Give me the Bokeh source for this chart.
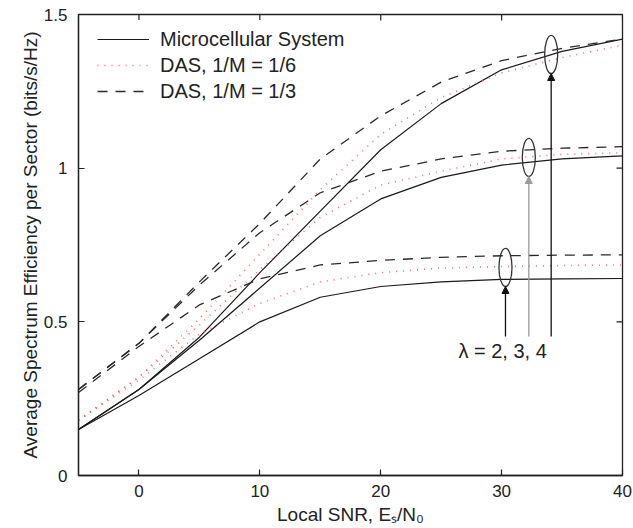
import math
from bokeh.plotting import figure
from bokeh.models import (Range1d, FixedTicker, Legend, LegendItem,
                          Label, Arrow, NormalHead)
from bokeh.embed import file_html
from bokeh.resources import INLINE

# ---------------- data ----------------
snr = [-5, 0, 5, 10, 15, 20, 25, 30, 35, 40]

micro_l2 = [0.15, 0.26, 0.38, 0.50, 0.58, 0.615, 0.63, 0.638, 0.64, 0.641]
micro_l3 = [0.15, 0.28, 0.44, 0.61, 0.78, 0.90, 0.97, 1.01, 1.03, 1.04]
micro_l4 = [0.15, 0.28, 0.45, 0.66, 0.86, 1.06, 1.21, 1.32, 1.38, 1.42]

das6_l2 = [0.18, 0.31, 0.46, 0.56, 0.63, 0.66, 0.675, 0.68, 0.683, 0.685]
das6_l3 = [0.18, 0.32, 0.49, 0.67, 0.84, 0.945, 0.99, 1.03, 1.045, 1.05]
das6_l4 = [0.18, 0.32, 0.51, 0.72, 0.93, 1.11, 1.23, 1.31, 1.36, 1.40]

das3_l2 = [0.27, 0.42, 0.555, 0.64, 0.685, 0.70, 0.71, 0.715, 0.717, 0.718]
das3_l3 = [0.28, 0.43, 0.62, 0.79, 0.92, 0.99, 1.03, 1.055, 1.065, 1.07]
das3_l4 = [0.28, 0.43, 0.63, 0.82, 1.03, 1.17, 1.28, 1.35, 1.39, 1.42]

legend_labels = ["Microcellular System", "DAS, 1/M = 1/6", "DAS, 1/M = 1/3"]

x_ticks = [0, 10, 20, 30, 40]
y_ticks = [0, 0.5, 1, 1.5]
y_tick_labels = ["0", "0.5", "1", "1.5"]
x_min, x_max = -5, 40
y_min, y_max = 0, 1.5

# annotation (ellipses marking lambda groups)
lam_x = [30.32, 32.25, 34.1]
lam_y = [0.677, 1.035, 1.37]
lam_w = 1.08
lam_h = 0.124
arrow_base = 0.452
lam_colors = ["#111111", "#9a9a9a", "#111111"]
lam_text = "λ = 2, 3, 4"
lam_text_x = 26.43
lam_text_y = 0.405

FONT = "Liberation Sans"

p = figure(width=633, height=528, output_backend="svg", toolbar_location=None,
           x_range=Range1d(x_min, x_max), y_range=Range1d(y_min, y_max),
           min_border_left=78, min_border_right=11, min_border_top=14,
           min_border_bottom=53)
p.grid.visible = False
p.outline_line_color = "#222222"
p.outline_line_width = 1.3
p.background_fill_color = "white"
p.border_fill_color = "white"

for ax, ticks in ((p.xaxis[0], x_ticks), (p.yaxis[0], y_ticks)):
    ax.ticker = FixedTicker(ticks=ticks)
    ax.minor_tick_line_color = None
    ax.major_tick_in = 6
    ax.major_tick_out = 0
    ax.axis_line_color = "#222222"
    ax.axis_line_width = 1.3
    ax.major_tick_line_color = "#222222"
    ax.major_tick_line_width = 1.2
    ax.major_label_text_font = FONT
    ax.major_label_text_color = "#222222"
    ax.major_label_text_font_size = "17px"
    ax.axis_label_text_font = FONT
    ax.axis_label_text_font_style = "normal"
    ax.axis_label_text_font_size = "19px"
    ax.axis_label_text_color = "#222222"

p.xaxis[0].major_label_standoff = 9
p.yaxis[0].major_label_standoff = 11
p.yaxis[0].major_label_overrides = {t: s for t, s in zip(y_ticks, y_tick_labels)}
p.yaxis[0].axis_label = "Average Spectrum Efficiency per Sector (bits/s/Hz)"
p.yaxis[0].axis_label_standoff = 0
p.xaxis[0].axis_label = "Local SNR, E\u209b/N\u2080"
p.xaxis[0].axis_label_standoff = 4

# inward ticks on the top and right edges
p.ray(x=x_ticks, y=[y_max] * len(x_ticks), length=6, length_units="screen",
      angle=-math.pi / 2, line_color="#222222", line_width=1.2)
p.ray(x=[x_max] * len(y_ticks), y=y_ticks, length=6, length_units="screen",
      angle=math.pi, line_color="#222222", line_width=1.2)

# ---------------- curves ----------------
solid_kw = dict(line_color="#1a1a1a", line_width=1.2)
dot_kw = dict(line_color="#ff4d4d", line_width=1.6, line_dash="1 6", line_alpha=0.85)
dash_kw = dict(line_color="#2a2a2a", line_width=1.3, line_dash="10 8")

r_solid = [p.line(snr, ys, **solid_kw) for ys in (micro_l2, micro_l3, micro_l4)]
r_dot = [p.line(snr, ys, **dot_kw) for ys in (das6_l2, das6_l3, das6_l4)]
r_dash = [p.line(snr, ys, **dash_kw) for ys in (das3_l2, das3_l3, das3_l4)]

legend = Legend(items=[LegendItem(label=legend_labels[0], renderers=[r_solid[0]]),
                       LegendItem(label=legend_labels[1], renderers=[r_dot[0]]),
                       LegendItem(label=legend_labels[2], renderers=[r_dash[0]])],
                location=(13, 365), padding=6, margin=0, spacing=0,
                glyph_width=52, glyph_height=26, label_height=26,
                label_standoff=11, border_line_alpha=0,
                background_fill_color="white", background_fill_alpha=1.0,
                label_text_font=FONT, label_text_font_size="20px",
                label_text_color="#222222")
p.add_layout(legend, "center")

# ---------------- annotations ----------------
p.ellipse(x=lam_x, y=lam_y, width=lam_w, height=lam_h, fill_alpha=0,
          line_color="#333333", line_width=1.3)
for xi, yi, ci in zip(lam_x, lam_y, lam_colors):
    p.add_layout(Arrow(end=NormalHead(size=7, fill_color=ci, line_color=ci),
                       x_start=xi, y_start=arrow_base, x_end=xi,
                       y_end=yi - lam_h / 2, line_color=ci, line_width=1.3))
p.add_layout(Label(x=lam_text_x, y=lam_text_y, text=lam_text, text_font=FONT,
                   text_font_size="20px", text_baseline="middle", text_align="left",
                   text_color="#222222"))

open("out.html", "w").write(file_html(p, INLINE))
